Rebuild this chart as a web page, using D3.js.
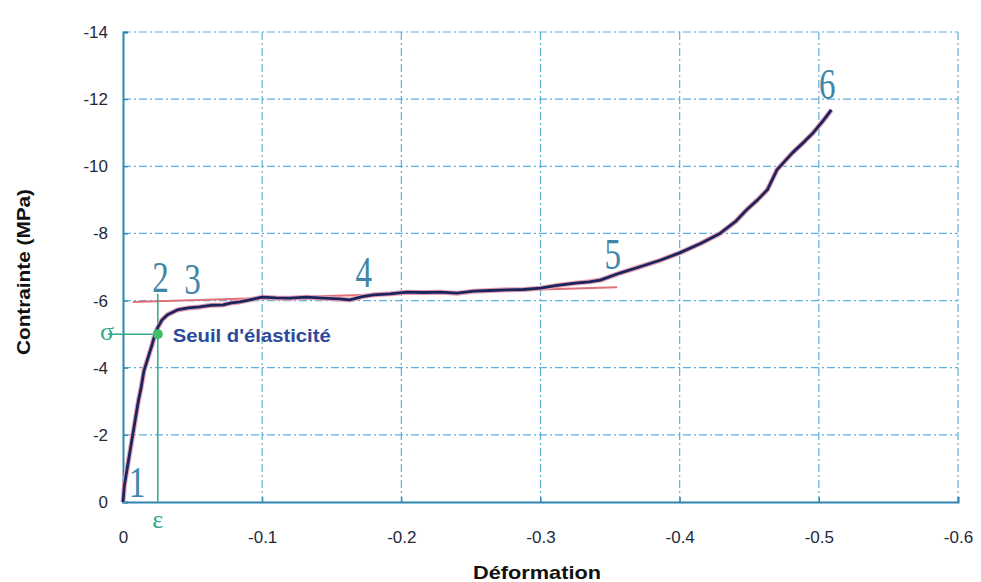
<!DOCTYPE html>
<html><head><meta charset="utf-8">
<script src="https://cdn.jsdelivr.net/npm/d3@7"></script>
<style>body{margin:0;background:#fff}svg{display:block}</style>
</head><body>
<svg id="c" width="981" height="582"></svg>
<script>
// ---- data ----
const strain = [0,-0.001,-0.003,-0.005,-0.007,-0.009,-0.011,-0.013,-0.015,-0.018,-0.021,-0.023,-0.025,-0.028,-0.032,-0.039,-0.047,-0.055,-0.063,-0.072,-0.078,-0.084,-0.092,-0.100,-0.110,-0.120,-0.132,-0.144,-0.155,-0.163,-0.172,-0.180,-0.192,-0.204,-0.216,-0.228,-0.240,-0.252,-0.264,-0.276,-0.288,-0.300,-0.312,-0.325,-0.335,-0.343,-0.357,-0.371,-0.386,-0.400,-0.415,-0.429,-0.440,-0.448,-0.456,-0.463,-0.470,-0.481,-0.490,-0.496,-0.503,-0.509];
const stress = [0,-0.5,-1.0,-1.5,-2.0,-2.5,-3.0,-3.4,-3.9,-4.3,-4.7,-5.0,-5.2,-5.42,-5.58,-5.72,-5.78,-5.81,-5.86,-5.87,-5.93,-5.96,-6.03,-6.10,-6.08,-6.07,-6.10,-6.07,-6.05,-6.02,-6.12,-6.17,-6.20,-6.25,-6.24,-6.25,-6.22,-6.28,-6.30,-6.32,-6.33,-6.37,-6.45,-6.52,-6.56,-6.61,-6.82,-7.0,-7.2,-7.42,-7.7,-8.0,-8.35,-8.7,-9.0,-9.3,-9.9,-10.4,-10.75,-11.0,-11.35,-11.68];
const xTicks = [0,-0.1,-0.2,-0.3,-0.4,-0.5,-0.6];
const yTicks = [0,-2,-4,-6,-8,-10,-12,-14];
const plateauStrain = [-0.007,-0.355];
const plateauStress = [-5.96,-6.4];
const yieldStrain = -0.025, yieldStress = -5.0;
const stageLabels = ["1","2","3","4","5","6"];
const stageStrain = [-0.010,-0.027,-0.050,-0.173,-0.352,-0.506];
const stageStress = [-0.15,-6.25,-6.2,-6.4,-6.95,-12.0];

// ---- layout ----
const svg = d3.select("#c");
const x = d3.scaleLinear().domain([0,-0.6]).range([123,958]);
const y = d3.scaleLinear().domain([0,-14]).range([502,32]);
const gridCol = "#62b0d8", axisCol = "#2e86b0";
const sans = "Liberation Sans, Arial, sans-serif";

// grid
const g = svg.append("g");
g.selectAll(".vg").data(xTicks.slice(1)).join("line")
  .attr("x1",d=>x(d)).attr("x2",d=>x(d)).attr("y1",y(-14)).attr("y2",y(0))
  .attr("stroke",gridCol).attr("stroke-width",1.2).attr("stroke-dasharray","8,3,2,3");
g.selectAll(".hg").data(yTicks.slice(1)).join("line")
  .attr("x1",x(0)).attr("x2",x(-0.6)).attr("y1",d=>y(d)).attr("y2",d=>y(d))
  .attr("stroke",gridCol).attr("stroke-width",1.2).attr("stroke-dasharray","8,3,2,3");

// axes
const xa = svg.append("g").attr("transform",`translate(0,${y(0)})`)
  .call(d3.axisBottom(x).tickValues(xTicks).tickSize(-5).tickPadding(29).tickFormat(d=>d===0?"0":d3.format(".1f")(d).replace("−","-")));
const ya = svg.append("g").attr("transform",`translate(${x(0)},0)`)
  .call(d3.axisLeft(y).tickValues(yTicks).tickSize(-5).tickPadding(15).tickFormat(d=>String(d)));
[xa,ya].forEach(a=>{
  a.select(".domain").attr("stroke",axisCol).attr("stroke-width",2);
  a.selectAll(".tick line").attr("stroke",axisCol).attr("stroke-width",1.2);
  a.selectAll(".tick text").attr("fill","#1e2a3a").attr("font-family",sans).attr("font-size",17);
});

// axis titles
svg.append("text").attr("x",537).attr("y",579).attr("text-anchor","middle")
  .attr("font-family",sans).attr("font-weight","bold").attr("font-size",19).attr("fill","#111")
  .attr("textLength",128).attr("lengthAdjust","spacingAndGlyphs")
  .text("Déformation");
svg.append("text").attr("transform","translate(30,272) rotate(-90)").attr("text-anchor","middle")
  .attr("font-family",sans).attr("font-weight","bold").attr("font-size",18).attr("fill","#111")
  .attr("textLength",166).attr("lengthAdjust","spacingAndGlyphs")
  .text("Contrainte (MPa)");

// plateau red line
svg.append("line").attr("x1",x(plateauStrain[0])).attr("x2",x(plateauStrain[1]))
  .attr("y1",y(plateauStress[0])).attr("y2",y(plateauStress[1]))
  .attr("stroke","#e0707a").attr("stroke-width",2);

// green yield markers
const green = "#2faa8a";
svg.append("line").attr("x1",x(0)-15).attr("x2",x(yieldStrain)).attr("y1",y(yieldStress)).attr("y2",y(yieldStress))
  .attr("stroke",green).attr("stroke-width",1.5);
svg.append("line").attr("x1",x(yieldStrain)).attr("x2",x(yieldStrain)).attr("y1",y(-6.2)).attr("y2",y(0))
  .attr("stroke",green).attr("stroke-width",1.5);
svg.append("text").attr("x",x(0)-16).attr("y",y(yieldStress)+6).attr("text-anchor","middle")
  .attr("font-family","Liberation Serif, serif").attr("font-size",26).attr("fill",green).text("σ");
svg.append("text").attr("x",x(yieldStrain)).attr("y",y(0)+26).attr("text-anchor","middle")
  .attr("font-family","Liberation Serif, serif").attr("font-size",26).attr("fill",green).text("ε");

// curve
const pts = strain.map((s,i)=>[s,stress[i]]);
const line = d3.line().x(d=>x(d[0])).y(d=>y(d[1]));
svg.append("path").attr("d",line(pts)).attr("fill","none").attr("stroke","#e7a0b0").attr("stroke-width",5).attr("stroke-linejoin","round");
svg.append("path").attr("d",line(pts)).attr("fill","none").attr("stroke","#1a2560").attr("stroke-width",2.8).attr("stroke-linejoin","round");

// yield point
svg.append("circle").attr("cx",x(yieldStrain)).attr("cy",y(yieldStress)).attr("r",5).attr("fill","#3cbf6a");
svg.append("text").attr("x",x(yieldStrain)+15).attr("y",y(yieldStress)+8)
  .attr("font-family",sans).attr("font-weight","bold").attr("font-size",18).attr("fill","#2b4a9c")
  .attr("textLength",158).attr("lengthAdjust","spacingAndGlyphs")
  .text("Seuil d'élasticité");

// stage numbers
svg.selectAll(".stage").data(stageLabels).join("text")
  .attr("transform",(d,i)=>`translate(${x(stageStrain[i])},${y(stageStress[i])}) scale(0.92,1.25)`)
  .attr("text-anchor","middle").attr("font-family","Liberation Serif, serif").attr("font-size",36)
  .attr("fill","#3f86a8").text(d=>d);
</script>
</body></html>
